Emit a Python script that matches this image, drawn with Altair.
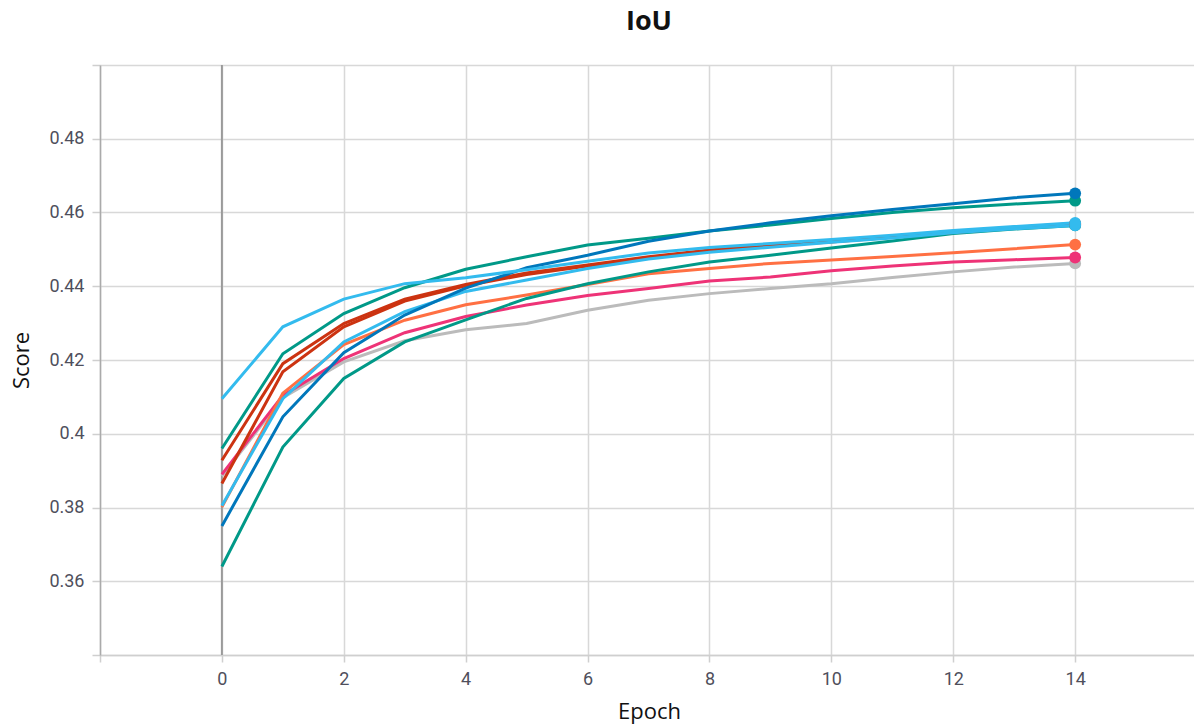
import altair as alt
import pandas as pd

# IoU score per training epoch for each run
epochs = list(range(15))

run_names = ["gray", "pink", "orange", "teal_b", "red_b", "red_a", "cyan_b", "teal_a", "blue", "cyan_a"]
run_colors = ["#bbbbbb", "#ee3377", "#ff7043", "#009988", "#cc3311", "#cc3311", "#33bbee", "#009988", "#0077bb", "#33bbee"]

gray = [0.3885, 0.4098, 0.4195, 0.4252, 0.4282, 0.4299, 0.4335, 0.4362, 0.4380, 0.4394, 0.4407, 0.4424, 0.4439, 0.4452, 0.4462]
pink = [0.3890, 0.4104, 0.4204, 0.4274, 0.4318, 0.4349, 0.4375, 0.4394, 0.4414, 0.4425, 0.4442, 0.4455, 0.4466, 0.4472, 0.4478]
orange = [0.3801, 0.4110, 0.4242, 0.4308, 0.4350, 0.4376, 0.4405, 0.4434, 0.4448, 0.4462, 0.4471, 0.4481, 0.4491, 0.4502, 0.4513]
teal_b = [0.3640, 0.3964, 0.4150, 0.4249, 0.4309, 0.4367, 0.4407, 0.4439, 0.4466, 0.4484, 0.4504, 0.4523, 0.4543, 0.4555, 0.4565]
red_b = [0.3865, 0.4168, 0.4290, 0.4360, 0.4401, 0.4432, 0.4455, 0.4477, 0.4495, 0.4510, 0.4520, 0.4533, 0.4546, 0.4558, 0.4568]
red_a = [0.3928, 0.4190, 0.4299, 0.4365, 0.4405, 0.4436, 0.4458, 0.4480, 0.4498, 0.4512, 0.4522, 0.4535, 0.4548, 0.4560, 0.4570]
cyan_b = [0.3805, 0.4095, 0.4249, 0.4331, 0.4386, 0.4417, 0.4448, 0.4474, 0.4492, 0.4506, 0.4519, 0.4531, 0.4545, 0.4556, 0.4565]
teal_a = [0.3960, 0.4217, 0.4326, 0.4396, 0.4446, 0.4480, 0.4512, 0.4530, 0.4550, 0.4566, 0.4584, 0.4600, 0.4613, 0.4623, 0.4632]
blue = [0.3750, 0.4046, 0.4220, 0.4322, 0.4395, 0.4450, 0.4484, 0.4522, 0.4550, 0.4572, 0.4591, 0.4608, 0.4624, 0.4640, 0.4652]
cyan_a = [0.4095, 0.4290, 0.4365, 0.4407, 0.4423, 0.4445, 0.4468, 0.4490, 0.4505, 0.4516, 0.4527, 0.4538, 0.4551, 0.4562, 0.4572]

series = [gray, pink, orange, teal_b, red_b, red_a, cyan_b, teal_a, blue, cyan_a]

x_ticks = [-2, 0, 2, 4, 6, 8, 10, 12, 14, 16]
y_ticks = [0.34, 0.36, 0.38, 0.40, 0.42, 0.44, 0.46, 0.48, 0.50]

rows = []
for idx, (name, vals) in enumerate(zip(run_names, series)):
    for e, v in zip(epochs, vals):
        rows.append({"run": f"{idx:02d}_{name}", "epoch": e, "score": v})
df = pd.DataFrame(rows)
run_domain = [f"{i:02d}_{n}" for i, n in enumerate(run_names)]

label_color = "#4f4f5c"
grid_color = "#d8d8d8"

x_enc = alt.X(
    "epoch:Q",
    title="Epoch",
    scale=alt.Scale(domain=[-2, 15.95], nice=False, zero=False),
    axis=alt.Axis(
        values=x_ticks,
        labelExpr="datum.value >= 0 && datum.value <= 14 ? datum.label : ''",
        grid=True, gridColor=grid_color, gridWidth=1.5,
        domainColor="#cfcfcf", domainWidth=1.5,
        tickColor="#cfcfcf", tickSize=7, tickWidth=1.5,
        labelFont="Roboto", labelFontSize=18, labelColor=label_color, labelPadding=8,
        titleFont="Open Sans", titleFontSize=22, titleFontWeight="normal", titleColor="#111111",
        titleX=549, titleY=63, titleBaseline="alphabetic",
    ),
)

y_enc = alt.Y(
    "score:Q",
    title="Score",
    scale=alt.Scale(domain=[0.34, 0.50], nice=False, zero=False),
    axis=alt.Axis(
        values=y_ticks,
        format=".2~f",
        labelExpr="datum.value > 0.345 && datum.value < 0.495 ? datum.label : ''",
        grid=True, gridColor=grid_color, gridWidth=1.5,
        domainColor="#aaaaaa", domainWidth=1.5,
        tickColor="#cfcfcf", tickSize=8, tickWidth=1.5,
        labelFont="Roboto", labelFontSize=18, labelColor=label_color, labelPadding=8,
        titleFont="Open Sans", titleFontSize=22, titleFontWeight="normal", titleColor="#111111",
        titleX=-72, titleY=295, titleBaseline="alphabetic",
    ),
)

color_enc = alt.Color("run:N", scale=alt.Scale(domain=run_domain, range=run_colors), legend=None)

# vertical reference line at epoch 0
zero_line = alt.Chart(pd.DataFrame({"epoch": [0]})).mark_rule(
    color="#9a9a9a", strokeWidth=2
).encode(x=x_enc)

lines = alt.Chart(df).mark_line(strokeWidth=3).encode(
    x=x_enc, y=y_enc, color=color_enc, order="epoch:Q"
)

last_points = alt.Chart(df).transform_filter("datum.epoch == 14").mark_circle(
    size=140, opacity=1
).encode(x=x_enc, y=y_enc, color=color_enc)

chart = alt.layer(zero_line, lines, last_points).properties(
    width=1094,
    height=590,
    title=alt.TitleParams(
        "IoU", font="Open Sans", fontSize=27, fontWeight="bold", color="#111111",
        anchor="middle", dx=2, offset=28,
    ),
    autosize=alt.AutoSizeParams(type="none"),
    padding={"left": 100, "top": 65, "right": 0, "bottom": 70},
).configure_view(stroke=None)

chart.save("out.html", embed_options={"renderer": "svg", "actions": False})
